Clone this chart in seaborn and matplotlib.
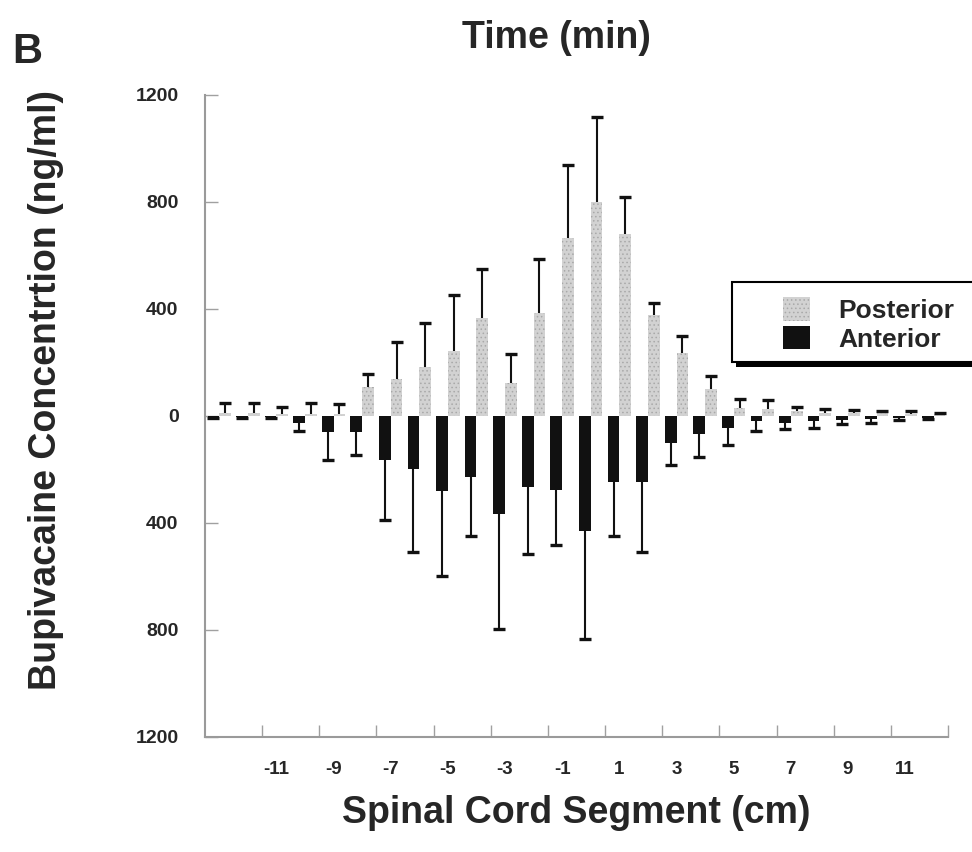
import pandas as pd
import numpy as np
import matplotlib.pyplot as plt
import matplotlib.patches as mpatches
import seaborn as sns

# segment positions (cm) and read-off values (ng/ml)
segments = list(range(-13, 13))
posterior_mean = [10, 10, 8, 6, 8, 108, 138, 185, 244, 365, 123, 386, 665,
                  801, 682, 376, 235, 100, 31, 25, 19, 12, 12, 10, 8, 6]
posterior_sd = [37, 37, 27, 41, 37, 49, 137, 163, 210, 183, 110, 200, 274,
                317, 136, 47, 63, 48, 34, 34, 15, 15, 10, 9, 11, 4]
anterior_mean = [5, 5, 5, 25, 60, 60, 163, 197, 282, 228, 366, 265, 278,
                 431, 247, 247, 100, 68, 44, 19, 25, 19, 15, 12, 8, 8]
anterior_sd = [1, 1, 1, 31, 105, 86, 225, 313, 315, 219, 431, 251, 204,
               404, 200, 260, 85, 84, 66, 37, 22, 25, 16, 13, 7, 4]

y_ticks = [-1200, -800, -400, 0, 400, 800, 1200]
y_ticklabels = ["1200", "800", "400", "0", "400", "800", "1200"]
x_ticklabels = [str(v) for v in range(-11, 12, 2)]

sns.set_style("white")
plt.rcParams["font.family"] = ["Liberation Sans", "DejaVu Sans"]
plt.rcParams["font.weight"] = "bold"
plt.rcParams["hatch.linewidth"] = 0.6

# long format table; anterior plotted below zero
df = pd.DataFrame({
    "segment": segments * 2,
    "conc": posterior_mean + [-v for v in anterior_mean],
    "region": ["Posterior"] * len(segments) + ["Anterior"] * len(segments),
})

fig = plt.figure(figsize=(9.72, 8.52), dpi=100)
ax = fig.add_axes([0.2109, 0.135, 0.7644, 0.7535])

sns.barplot(data=df, x="segment", y="conc", hue="region",
            hue_order=["Anterior", "Posterior"],
            palette={"Anterior": "#111111", "Posterior": "#d2d2d2"},
            native_scale=True, width=0.82, errorbar=None, legend=False,
            linewidth=0, ax=ax)

ant_bars, post_bars = ax.containers[0], ax.containers[1]
for p in post_bars:
    p.set_hatch("....")
    p.set_edgecolor("#a9a9a9")
    p.set_linewidth(0)

# one-sided error bars (away from zero), cap only at the far end
def draw_err(bars, sd, sign):
    xs = np.array([p.get_x() + p.get_width() / 2 for p in bars])
    ys = np.array([p.get_height() for p in bars])
    ends = ys + sign * np.array(sd)
    ax.vlines(xs, ys, ends, color="#111111", linewidth=1.5, zorder=3)
    ax.plot(xs, ends, linestyle="none", marker="_", markersize=9,
            markeredgewidth=2.4, color="#111111", zorder=3)

draw_err(ant_bars, anterior_sd, -1)
draw_err(post_bars, posterior_sd, 1)

ax.set_xlim(-13.5, 12.5)
ax.set_ylim(-1200, 1200)

ax.set_xticks(np.arange(-11.5, 13, 2))
ax.set_xticklabels([""] * len(np.arange(-11.5, 13, 2)))
ax.set_xticks(np.arange(-11, 12, 2), minor=True)
ax.set_xticklabels(x_ticklabels, minor=True, fontsize=13.5, fontweight="bold")
ax.tick_params(axis="x", which="major", direction="in", length=9, width=1,
               color="#a0a0a0", bottom=True)
ax.tick_params(axis="x", which="minor", length=0, pad=17, bottom=True)

ax.set_yticks(y_ticks)
ax.set_yticklabels(y_ticklabels, fontsize=14, fontweight="bold")
ax.tick_params(axis="y", direction="in", length=9, width=1, color="#a0a0a0",
               pad=19, left=True)

sns.despine(ax=ax)
for s in ["left", "bottom"]:
    ax.spines[s].set_color("#9a9a9a")
    ax.spines[s].set_linewidth(1.5)

ax.set_xlabel("Spinal Cord Segment (cm)", fontsize=27, fontweight="bold")
ax.xaxis.set_label_coords(0.5, -0.09)
ax.set_ylabel("Bupivacaine Concentrtion (ng/ml)", fontsize=27, fontweight="bold")
ax.yaxis.set_label_coords(-0.19, 0.54)

fig.text(556 / 972, 1 - 48 / 852, "Time (min)", ha="center", va="baseline",
         fontsize=27, fontweight="bold")
fig.text(12 / 972, 1 - 63 / 852, "B", ha="left", va="baseline",
         fontsize=30, fontweight="bold")

# legend box with drop shadow, partly off the right edge
shadow = mpatches.Rectangle((736 / 972, 1 - 367 / 852), 0.3, 84 / 852,
                            transform=fig.transFigure, facecolor="black",
                            edgecolor="none", zorder=5)
box = mpatches.Rectangle((732 / 972, 1 - 362 / 852), 0.3, 80 / 852,
                         transform=fig.transFigure, facecolor="white",
                         edgecolor="black", linewidth=1.5, zorder=6)
fig.patches.extend([shadow, box])

leg = fig.legend([post_bars.patches[0], ant_bars.patches[0]],
                 ["Posterior", "Anterior"], loc="upper left",
                 bbox_to_anchor=(770 / 972, 1 - 284 / 852), frameon=False,
                 borderpad=0, handlelength=1.0, handleheight=1.0,
                 handletextpad=1.1, labelspacing=0.1,
                 prop={"size": 19, "weight": "bold"})
leg.set_zorder(7)

fig.savefig("out.png", dpi=100)
